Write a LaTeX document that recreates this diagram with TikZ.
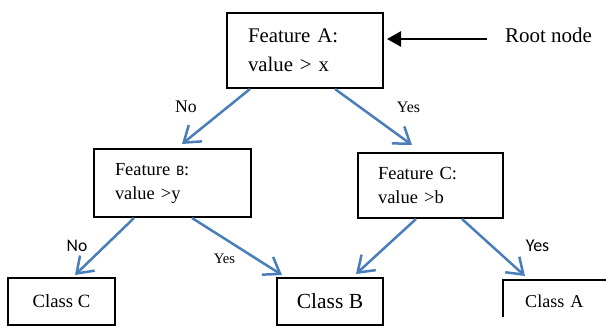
\documentclass[tikz,border=0pt]{standalone}
\usepackage{fontspec}
\setmainfont{Liberation Serif}
\newfontfamily\calib{Carlito}
\usetikzlibrary{arrows.meta,calc}
\definecolor{arrowblue}{RGB}{74,126,187}
\begin{document}
\begin{tikzpicture}[x=1pt,y=-1pt,
  box/.style={draw=black,line width=2pt,line join=miter,rectangle,inner ysep=0pt},
  featbox/.style={box,align=left},
  conn/.style={draw=arrowblue,line width=2.5pt,-{Straight Barb[length=15pt,width=21pt]}},
  lbl/.style={anchor=base,inner sep=0pt}]
\useasboundingbox (0,0) rectangle (606,327);
% decision boxes
\node[featbox,text width=114pt,inner xsep=21pt,minimum height=75pt,
  font=\fontsize{20.8}{29}\selectfont] (root) at (305,50.5) {Feature A:\\value > x};
\node[featbox,text width=115pt,inner xsep=21pt,minimum height=68pt,
  font=\fontsize{18.4}{24}\selectfont] (fb) at (172.5,183) {Feature {\calib\fontsize{14.5}{17}\selectfont B}:\\value >y};
\node[featbox,text width=105pt,inner xsep=20pt,minimum height=65pt,
  font=\fontsize{18.5}{24}\selectfont] (fc) at (430.5,185.5) {Feature C:\\value >b};
% leaves
\node[box,minimum width=107pt,minimum height=47pt,inner xsep=0pt,
  font=\fontsize{18.7}{22}\selectfont] (cc) at (61.5,301.5) {Class C};
\node[box,minimum width=106pt,minimum height=47pt,inner xsep=0pt,
  font=\fontsize{21.5}{25}\selectfont] (cb) at (330,301.5) {Class B};
\node[anchor=north west,text width=59pt,inner xsep=22pt,inner ysep=0pt,minimum height=42pt,
  align=left,font=\fontsize{18.1}{22}\selectfont] (ca) at (503,280) {Class A};
\draw[line width=2pt,line join=miter] ($(ca.north west)+(0,37)$) -- (ca.north west) -- ($(ca.north east)+(6,0)$);
% root label and arrow
\node[lbl,font=\fontsize{21}{25}\selectfont] (rootlbl) at (548.5,42) {Root node};
\coordinate (rn) at (487,39);
\draw[line width=2.5pt,-{Triangle[length=14pt,width=15pt]}] (rn) -- ($(rn -| root.east)+(3,0)$);
% edge labels
\node[lbl,font=\fontsize{17.7}{20}\selectfont] (no1) at (186,112) {No};
\node[lbl,font=\fontsize{16}{19}\selectfont] (yes1) at (408.5,112) {Yes};
\node[lbl,font=\calib\fontsize{17.6}{20}\selectfont] (no2) at (77,251) {No};
\node[lbl,font=\fontsize{14.6}{17}\selectfont] (yes2) at (224.5,263) {Yes};
\node[lbl,font=\calib\fontsize{18}{20}\selectfont] (yes3) at (537.5,251) {Yes};
% connectors
\draw[conn] ($(root.south west)+(24,0)$) -- ($(fb.north west)+(89,-4)$);
\draw[conn] ($(root.south west)+(109,0)$) -- ($(fc.north west)+(55,-7)$);
\draw[conn] ($(fb.south west)+(41,0)$) -- ($(cc.north west)+(68,-2)$);
\draw[conn] ($(fb.south west)+(99,0)$) -- ($(cb.north west)+(6,-2)$);
\draw[conn] ($(fc.south west)+(59,0)$) -- ($(cb.north west)+(80,-3)$);
\draw[conn] ($(fc.south west)+(105,0)$) -- ($(ca.north west)+(22,-4)$);
\end{tikzpicture}
\end{document}
